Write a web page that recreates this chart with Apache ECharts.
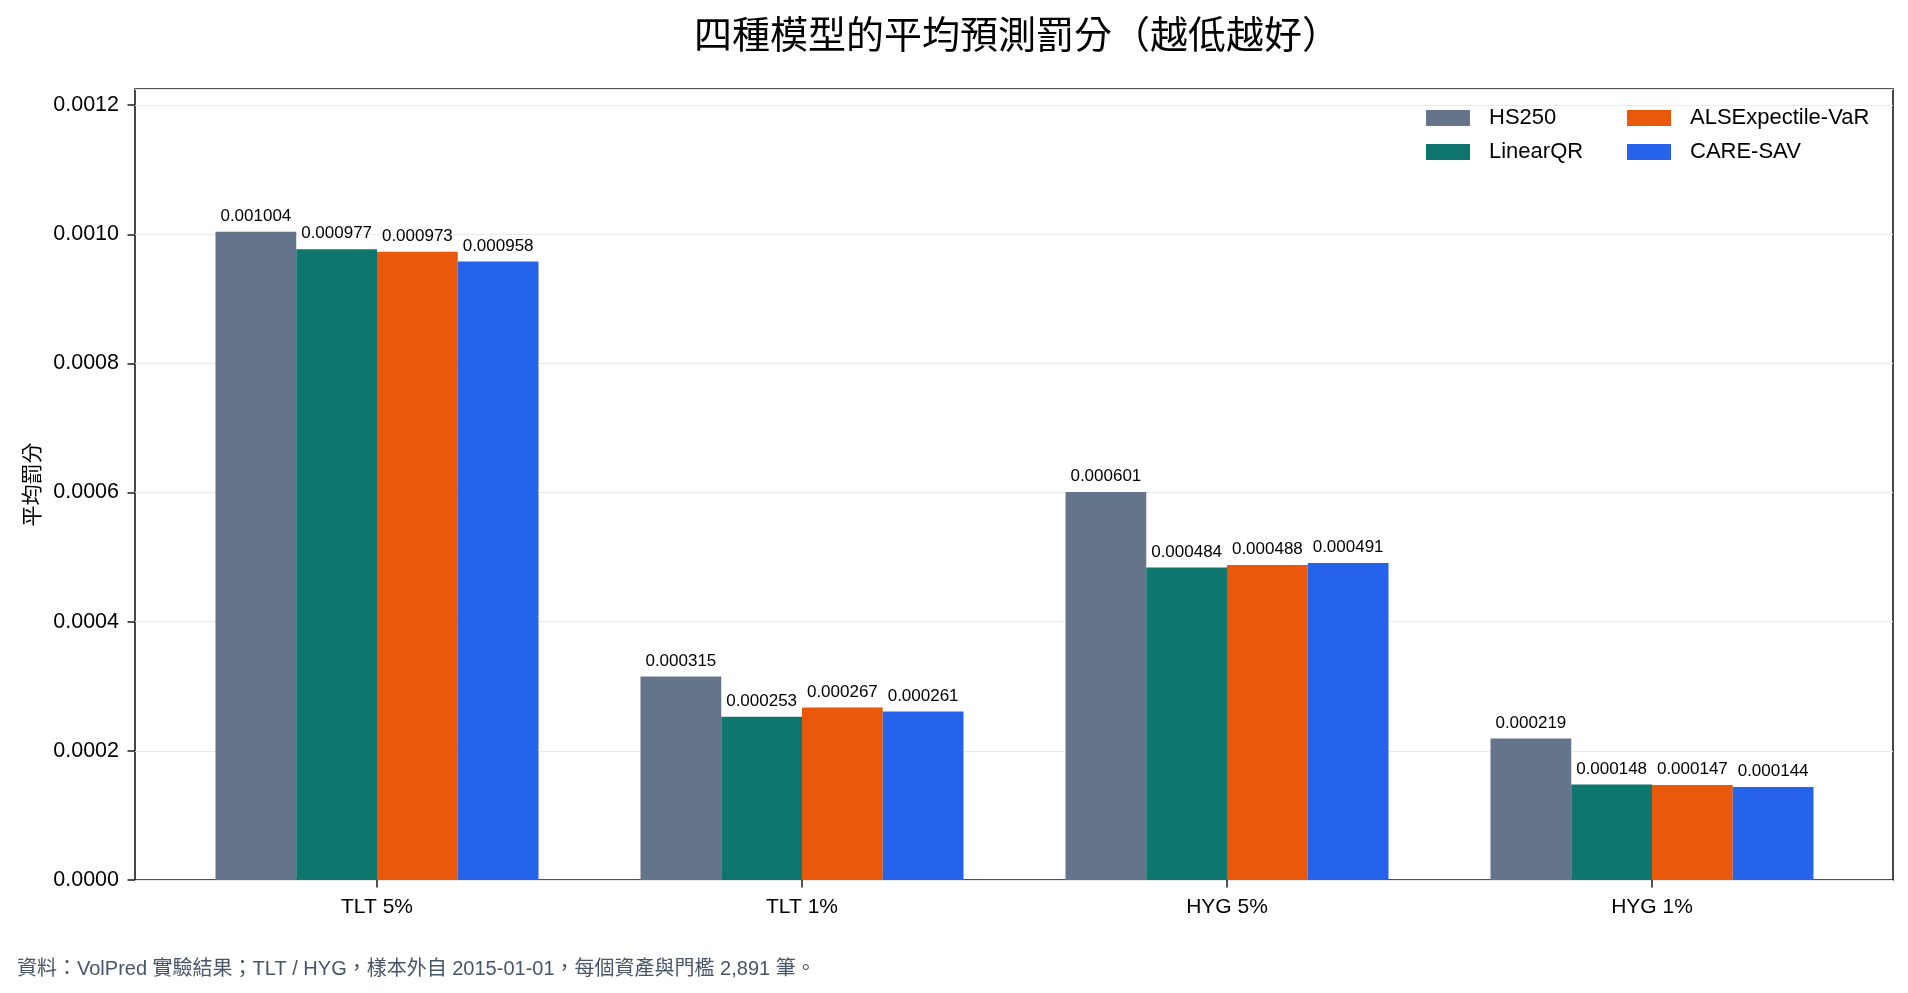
<!DOCTYPE html>
<html>
<head>
<meta charset="utf-8">
<script src="https://cdn.jsdelivr.net/npm/echarts@6/dist/echarts.min.js"></script>
<style>
  html, body { margin: 0; padding: 0; background: #fff; }
  #chart { width: 1908px; height: 993px; }
</style>
</head>
<body>
<div id="chart"></div>
<script>
  // 資料
  var categories = ['TLT 5%', 'TLT 1%', 'HYG 5%', 'HYG 1%'];
  var models = ['HS250', 'LinearQR', 'ALSExpectile-VaR', 'CARE-SAV'];
  var hs250 = [0.001004, 0.000315, 0.000601, 0.000219];
  var linearQR = [0.000977, 0.000253, 0.000484, 0.000148];
  var alsExpectile = [0.000973, 0.000267, 0.000488, 0.000147];
  var careSav = [0.000958, 0.000261, 0.000491, 0.000144];
  var yTicks = [0, 0.0002, 0.0004, 0.0006, 0.0008, 0.0010, 0.0012];
  var colors = ['#64748b', '#0f766e', '#ea580c', '#2563eb'];

  var font = "'Liberation Sans', 'Noto Sans CJK TC', sans-serif";
  var cjk = "'Noto Sans CJK TC', sans-serif";
  var chart = echarts.init(document.getElementById('chart'));

  var yMax = 0.001225;
  var seriesData = [hs250, linearQR, alsExpectile, careSav];

  var series = models.map(function (name, i) {
    return {
      name: name,
      type: 'bar',
      xAxisIndex: 0,
      yAxisIndex: 0,
      barGap: '0%',
      barCategoryGap: '24%',
      itemStyle: { color: colors[i] },
      label: {
        show: true,
        position: 'top',
        distance: 7,
        fontFamily: font,
        fontSize: 17,
        color: '#000',
        formatter: function (p) { return p.value.toFixed(6); }
      },
      data: seriesData[i]
    };
  });

  var legendText = { fontSize: 22, color: '#000', lineHeight: 22, padding: [0, 0, 0, 14] };

  var option = {
    animation: false,
    backgroundColor: '#fff',
    textStyle: { fontFamily: font },
    title: {
      text: '四種模型的平均預測罰分（越低越好）',
      left: 1012,
      textAlign: 'center',
      top: 10,
      textStyle: { fontFamily: cjk, fontSize: 38, fontWeight: 'normal', color: '#000' }
    },
    legend: [
      {
        data: ['HS250', 'LinearQR'],
        orient: 'vertical',
        left: 1426, top: 107, padding: 0,
        itemWidth: 44, itemHeight: 16, itemGap: 12,
        icon: 'rect',
        textStyle: legendText
      },
      {
        data: ['ALSExpectile-VaR', 'CARE-SAV'],
        orient: 'vertical',
        left: 1627, top: 107, padding: 0,
        itemWidth: 44, itemHeight: 16, itemGap: 12,
        icon: 'rect',
        textStyle: legendText
      }
    ],
    grid: [
      { left: 164.5, width: 1700, top: 89, height: 791, show: false },
      { left: 135, width: 1758, top: 89, height: 791, show: true, borderColor: '#1a1a1a', borderWidth: 1.6, backgroundColor: 'transparent', z: 0 }
    ],
    xAxis: [
      {
        type: 'category',
        gridIndex: 0,
        data: categories,
        axisLine: { show: false },
        axisTick: { show: true, alignWithLabel: true, length: 7.5, lineStyle: { color: '#1a1a1a', width: 1.5 } },
        axisLabel: { fontSize: 21, color: '#000', margin: 17 }
      },
      { type: 'value', gridIndex: 1, show: false, min: 0, max: 1 }
    ],
    yAxis: [
      {
        type: 'value',
        gridIndex: 0,
        min: 0, max: yMax, interval: 0.0002,
        offset: 29.5,
        name: '平均罰分',
        nameLocation: 'middle',
        nameGap: 93,
        nameTextStyle: { fontFamily: cjk, fontSize: 21, color: '#000' },
        axisLine: { show: false },
        axisTick: { show: true, length: 7.5, lineStyle: { color: '#1a1a1a', width: 1.5 } },
        splitLine: { show: false },
        axisLabel: {
          fontSize: 21.5, color: '#000', margin: 16, showMaxLabel: false,
          formatter: function (v) { return yTicks.indexOf(v) >= 0 || v === 0 ? v.toFixed(4) : ''; }
        }
      },
      {
        type: 'value',
        gridIndex: 1,
        min: 0, max: yMax, interval: 0.0002,
        axisLine: { show: false },
        axisTick: { show: false },
        axisLabel: { show: false },
        splitLine: { show: true, lineStyle: { color: '#ebebeb', width: 1.2 } }
      }
    ],
    graphic: [
      {
        type: 'text',
        left: 17, top: 959,
        style: {
          text: '資料：VolPred 實驗結果；TLT / HYG，樣本外自 2015-01-01，每個資產與門檻 2,891 筆。',
          fontFamily: font,
          fontSize: 20,
          fill: '#475569'
        }
      }
    ],
    series: series
  };

  chart.setOption(option);
</script>
</body>
</html>
